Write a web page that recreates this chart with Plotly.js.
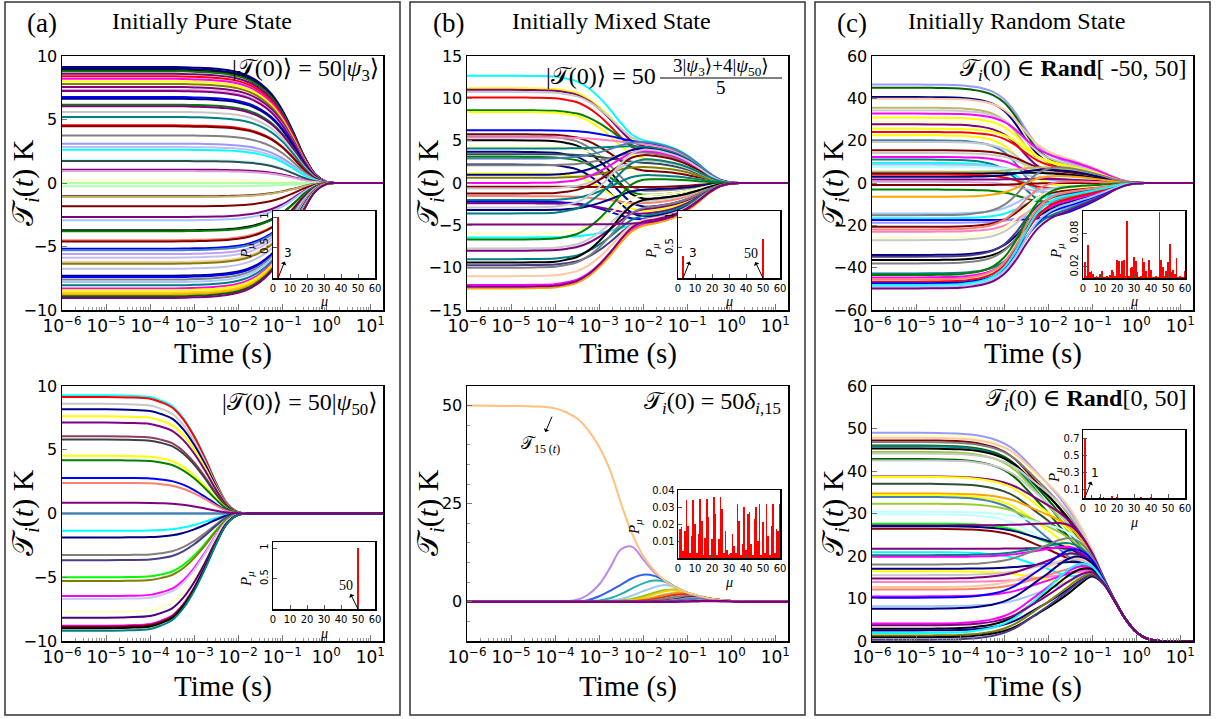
<!DOCTYPE html>
<html>
<head>
<meta charset="utf-8">
<script src="https://cdn.plot.ly/plotly-3.0.1.min.js"></script>
<style>
  html, body { margin: 0; padding: 0; background: #fff; }
  #fig { width: 1216px; height: 719px; }
</style>
</head>
<body>
<div id="fig"></div>
<script>
// ---------------------------------------------------------------------------
// Time samples (s) shared by every temperature curve
const TIME_S = [1e-6, 1e-5, 3.16e-5, 1e-4, 1.78e-4, 3.16e-4, 5.62e-4, 1e-3, 1.78e-3, 3.16e-3,
                5.62e-3, 1e-2, 1.78e-2, 3.16e-2, 5.62e-2, 0.1, 0.178, 0.316, 0.562, 1,
                1.78, 3.16, 10, 20];

// Relaxation profiles (fraction of the amplitude left) on TIME_S
const DECAY_PSI3  = [1, 1, 1, 1, 1, 1, 0.999, 0.995, 0.992, 0.985, 0.974, 0.955, 0.92, 0.86, 0.77,
                     0.63, 0.44, 0.23, 0.075, 0.01, 0.0003, 0, 0, 0];
const DECAY_PSI50 = [1, 1, 0.996, 0.985, 0.955, 0.91, 0.81, 0.66, 0.47, 0.26, 0.085, 0.012, 0.0005,
                     0, 0, 0, 0, 0, 0, 0, 0, 0, 0, 0];
const FAST_RAND   = [1, 1, 0.997, 0.99, 0.975, 0.95, 0.9, 0.8, 0.62, 0.38, 0.18, 0.07, 0.02, 0.005,
                     0, 0, 0, 0, 0, 0, 0, 0, 0, 0];
const SLOW_RAND   = [1, 1, 1, 1, 1, 1, 1, 1, 1, 1, 0.98, 0.94, 0.88, 0.79, 0.67, 0.53, 0.37, 0.2,
                     0.07, 0.012, 0.001, 0, 0, 0];
const FAST_POS    = [1, 1, 0.998, 0.99, 0.98, 0.96, 0.93, 0.88, 0.8, 0.68, 0.55, 0.42, 0.28, 0.15,
                     0.06, 0.02, 0.005, 0, 0, 0, 0, 0, 0, 0];
const MID_POS     = [1, 1, 1, 1, 1, 1, 1, 1, 1, 1, 1, 1, 1, 0.93, 0.7, 0.35, 0.1, 0.02, 0, 0,
                     0, 0, 0, 0];
const FINAL_POS   = [1, 1, 1, 1, 1, 1, 1, 1, 1, 1, 1, 1, 1, 1, 1, 0.97, 0.8, 0.55, 0.3, 0.12, 0.03,
                     0.004, 0, 0];
const LATE_LEVEL_POS = 17.5;

// (a) |T(0)> = 50|psi_3> : site amplitudes and colours
const PURE3_T0 = [9.13, 9.0, 8.87, 8.8, 8.6, 8.4, 8.2, 8.0, 7.8, 7.56, 7.35, 7.24, 6.77, 6.64, 6.17,
  6.04, 5.6, 5.2, 4.54, 4.46, 3.75, 3.1, 2.83, 2.62, 1.84, 1.73, 1.05, 0.94, 0.2, 0.0, -0.26, -1.05,
  -1.1, -1.84, -2.68, -2.94, -3.73, -3.8, -4.5, -4.6, -5.17, -5.3, -5.6, -5.88, -6.22, -6.35, -6.75,
  -7.3, -7.4, -7.6, -7.8, -8.06, -8.3, -8.45, -8.63, -8.77, -8.92, -9.05];
const PURE3_COLORS = ['#000080','#00008b','#000000','#008000','#800080','#ff0000','#ff00ff','#ffff00',
  '#808000','#800080','#dda0dd','#800080','#0000ff','#00008b','#008000','#800080','#c8c8c8','#008080',
  '#ff0000','#800000','#808080','#9999ff','#c0c0f0','#00ffff','#c0ffff','#2f4f4f','#800080','#dda0dd',
  '#ffffc0','#b0ffb0','#b0ffb0','#800000','#bdb76b','#800000','#800080','#a0c8ff','#000000','#008000',
  '#fa8072','#800000','#0000ff','#4682b4','#c0a0ff','#c0c0f0','#ffc8a0','#808000','#c0c0f0','#000080',
  '#0000ff','#808080','#a0c8ff','#008080','#ff00ff','#ffff00','#ffd700','#ffa500','#006400','#800080'];

// (a) |T(0)> = 50|psi_50>
const PURE50_T0 = [9.27, 9.14, 8.6, 8.17, 7.62, 7.13, 6.06, 5.8, 4.52, 4.18, 2.79, 2.4, 0, 0, -1.36,
  -1.88, -3.26, -3.66, -5.0, -5.3, -6.48, -6.7, -7.7, -8.17, -8.8, -8.88, -9.0, -9.2, 0.84];
const PURE50_COLORS = ['#00ffff','#ff0000','#c8c8c8','#000080','#ffff00','#800080','#8b4060','#404040',
  '#ffff00','#008000','#0000ff','#fa8072','#4682b4','#4682b4','#00ffff','#000080','#808080','#483d8b',
  '#00ff00','#808000','#ff00ff','#c8c8f0','#ffffc0','#4b0082','#ff00ff','#8b0000','#000000','#008080',
  '#800080'];

// (b) |T(0)> = 50 (3|psi_3> + 4|psi_50>)/5 : start values and psi_3 plateau values
const MIXED_T0 = [12.68, 11.2, 11.0, 10.75, 10.1, 8.6, 8.4, 6.23, 5.76, 5.5, 5.37, 5.05, 4.35, 4.07,
  3.68, 3.4, 3.09, 2.89, 2.18, 2.1, 1.12, 0.96, 0.61, 0, -0.45, -0.65, -1.24, -1.55, -2.02, -2.22,
  -2.4, -2.89, -3.2, -3.6, -5.96, -6.43, -6.67, -7.73, -8.0, -9.0, -9.4, -9.7, -10.0, -11.0, -12.05,
  -12.45, -12.25, -4.9];
const MIXED_PLATEAU = [5.2, 4.8, 4.5, 5.0, 3.8, 4.2, 3.0, 5.0, 1.5, -1.0, 4.8, -2.0, 1.0, 4.5, -3.0,
  2.5, -1.5, 5.1, -4.2, 3.8, -3.5, 4.3, 2.0, 4.0, -0.5, 2.8, 3.5, -2.5, 1.0, -4.5, -3.8, 4.2, -0.8,
  3.0, -1.5, -5.0, 0.5, -2.2, -3.2, -4.0, -2.0, -4.6, -3.0, -4.5, -5.0, -5.2, -4.7, -4.9];
const MIXED_COLORS = ['#00ffff','#ffff00','#800080','#c8c8c8','#ff0000','#008000','#ffff00','#0000ff',
  '#800000','#808080','#ff80c0','#000000','#ffffc0','#008080','#00008b','#2f4f4f','#008000','#4682b4',
  '#000080','#808080','#ffff00','#00008b','#808000','#ff00ff','#8b0000','#c8c8c8','#800000','#fa8072',
  '#008080','#0000ff','#800080','#c8c8c8','#000080','#008080','#ffffc0','#00ffff','#008000','#c8c8c8',
  '#800080','#008080','#000000','#483d8b','#808080','#ffc8a0','#ff00ff','#ffa500','#800080','#800080'];

// (b) T_i(0) = 50 delta_{i,15} : heated site and its neighbours
const HEATED_SITE_15 = [50, 49.9, 49.8, 49.3, 48.3, 46.7, 43.8, 39.5, 33.5, 25.0, 17.3, 11.7, 7.9,
  5.3, 3.6, 2.3, 1.5, 0.85, 0.45, 0.2, 0.05, 0, 0, 0];
const NEIGHBOUR_SITES = [
  [0, 0, 0.01, 0.05, 0.15, 0.5, 1.8, 4.4, 8.7, 13.4, 14.0, 10.8, 7.5, 5.2, 3.6, 2.3, 1.5, 0.85, 0.45, 0.2, 0.05, 0, 0, 0],
  [0, 0, 0, 0.01, 0.03, 0.08, 0.4, 1.4, 2.8, 4.4, 6.0, 6.9, 6.6, 5.3, 3.6, 2.3, 1.5, 0.85, 0.45, 0.2, 0.05, 0, 0, 0],
  [0, 0, 0, 0, 0.01, 0.02, 0.1, 0.3, 0.9, 2.0, 3.4, 4.7, 5.4, 5.1, 3.7, 2.3, 1.5, 0.85, 0.45, 0.2, 0.05, 0, 0, 0],
  [0, 0, 0, 0, 0, 0.01, 0.03, 0.1, 0.3, 0.7, 1.6, 2.7, 3.7, 4.3, 3.6, 2.3, 1.5, 0.85, 0.45, 0.2, 0.05, 0, 0, 0],
  [0, 0, 0, 0, 0, 0, 0.01, 0.03, 0.1, 0.3, 0.7, 1.4, 2.3, 3.0, 3.1, 2.3, 1.5, 0.85, 0.45, 0.2, 0.05, 0, 0, 0],
  [0, 0, 0, 0, 0, 0, 0, 0.01, 0.04, 0.12, 0.3, 0.6, 1.2, 1.9, 2.4, 2.1, 1.5, 0.85, 0.45, 0.2, 0.05, 0, 0, 0],
  [0, 0, 0, 0, 0, 0, 0, 0.01, 0.05, 0.15, 0.4, 1.0, 1.9, 2.7, 2.9, 2.2, 1.5, 0.85, 0.45, 0.2, 0.05, 0, 0, 0],
  [0, 0, 0, 0, 0, 0, 0, 0, 0.02, 0.06, 0.2, 0.5, 1.1, 1.8, 2.2, 2.0, 1.4, 0.85, 0.45, 0.2, 0.05, 0, 0, 0],
  [0, 0, 0, 0, 0, 0, 0, 0, 0.01, 0.03, 0.1, 0.3, 0.7, 1.3, 1.8, 1.9, 1.4, 0.85, 0.45, 0.2, 0.05, 0, 0, 0],
  [0, 0, 0, 0, 0, 0, 0, 0, 0, 0, 0, 0.1, 0.4, 0.8, 1.3, 1.5, 1.3, 0.85, 0.45, 0.2, 0.05, 0, 0, 0],
  [0, 0, 0, 0, 0, 0, 0, 0, 0, 0, 0, 0, 0.1, 0.3, 0.7, 1.1, 1.1, 0.8, 0.45, 0.2, 0.05, 0, 0, 0],
  [0, 0, 0, 0, 0, 0, 0, 0, 0, 0, 0, 0, 0, 0.2, 0.5, 0.9, 1.0, 0.8, 0.45, 0.2, 0.05, 0, 0, 0],
  [0, 0, 0, 0, 0, 0, 0, 0, 0, 0, 0, 0, 0, 0.1, 0.3, 0.6, 0.8, 0.7, 0.4, 0.2, 0.05, 0, 0, 0]
];
const NEIGHBOUR_COLORS = ['#b888f0','#2f60f0','#20b0b0','#a0c8f0','#90c020','#a0e0e0','#f0d000',
  '#ff8c00','#e03020','#808080','#202020','#b080e0','#5080b0'];
const HEATED_COLOR = '#ffc080';
const FAR_SITE = [0, 0, 0, 0, 0, 0, 0, 0, 0, 0, 0, 0, 0, 0, 0.02, 0.08, 0.15, 0.2, 0.15, 0.08, 0.02, 0, 0, 0];

// (c) T_i(0) in Rand[-50, 50] : start values and values near 10 ms
const RAND_SYM_T0 = [46.5, 45, 40.6, 39.8, 35.6, 34.3, 32.8, 30.9, 28.8, 27.7, 25.7, 24.1, 22.6, 20.2,
  19.4, 15.5, 14.2, 12.3, 11.1, 9.5, 8.7, 7.6, 5.3, 4.5, 4.0, 2.9, 1.65, 0.55, -1.0, -3.1, -6.5,
  -14.4, -15.2, -16.7, -17.5, -18.8, -20.7, -22, -23, -25.7, -27, -34, -34.8, -36.4, -38, -42.7,
  -43.5, -44.6, -45.5, -46.6, -47.4, -48.2, -49, -49.8];
const RAND_SYM_MID = [12, 10, 8, 14, 6, 11, 13, 9, 7, 4, 10, 8, -2, -8, 3, 6, 5, 2, -12, -6, 1, 3, 8,
  5, -3, 7, 2, -5, 0, -10, 4, -2, 9, -6, -17, -14, -4, 1, -9, -3, -7, -11, -6, -12, -8, -15, -2, -10,
  -5, -9, -13, -7, -12, -16];
const RAND_SYM_COLORS = ['#9999ff','#006400','#000080','#ffc8a0','#bdb76b','#c8c8c8','#ff00ff','#ffff00',
  '#ffffc0','#800080','#ffff00','#ff0000','#ffff00','#4682b4','#c8c8c8','#800000','#c8c8c8','#ff00ff',
  '#008080','#00ffff','#a0c8ff','#c0ffff','#bdb76b','#000000','#ff0000','#000080','#800080','#dda0dd',
  '#800000','#008000','#ffa500','#a0c8ff','#808080','#00ffff','#0000ff','#9999ff','#800000','#fa8072',
  '#ff80c0','#ffffc0','#c8c8c8','#000080','#483d8b','#000000','#808080','#008080','#008000','#ff00ff',
  '#fa8072','#ff0000','#0000ff','#00ffff','#a0c8ff','#800080'];

// (c) T_i(0) in Rand[0, 50] : start values and values near 30 ms
const RAND_POS_T0 = [49, 48.4, 47.8, 47.2, 46.8, 46, 45.8, 45.3, 44.5, 44.1, 42.8, 42.5, 38.7, 38.6,
  37, 34.7, 34.3, 33.9, 32.3, 30.4, 29.8, 27.6, 27.2, 27, 26.4, 21.7, 20.9, 20.2, 19.8, 18, 17, 16.4,
  15.5, 14.7, 13.9, 12.7, 12.1, 10.5, 10.2, 8.2, 7.6, 4.1, 2.9, 2.5, 1.9, 1.3, 0.9, 0.3, 3.7];
const RAND_POS_MID = [28, 26, 29, 25, 27, 24, 22, 26, 23, 28, 21, 25, 27, 24, 22, 26, 20, 17, 23, 25,
  19, 20, 28, 21, 18, 22, 14, 24, 23, 26, 19, 13, 20, 22, 16, 21, 18, 17, 24, 15, 22, 19, 18, 14, 20,
  15, 13, 14, 16];
const RAND_POS_COLORS = ['#9999ff','#ffffc0','#ffc8a0','#800000','#808080','#006400','#008080','#000000',
  '#9acd32','#c8c8c8','#006400','#c8c8c8','#800080','#ffff00','#2f4f2f','#ffa500','#ffff00','#4682b4',
  '#9acd32','#c0ffff','#c0ffff','#00ff00','#800080','#000080','#8b0000','#800080','#00ffff','#008080',
  '#ff00ff','#808080','#000080','#ffff00','#c8c8c8','#800080','#ff80c0','#ffc8a0','#fa8072','#ff00ff',
  '#0000ff','#a0c8ff','#000080','#ff00ff','#000000','#00008b','#00ffff','#808000','#000000','#483d8b',
  '#800080'];

// Inset spectra P_mu
const MU_ALL = [1,2,3,4,5,6,7,8,9,10,11,12,13,14,15,16,17,18,19,20,21,22,23,24,25,26,27,28,29,30,
  31,32,33,34,35,36,37,38,39,40,41,42,43,44,45,46,47,48,49,50,51,52,53,54,55,56,57,58,59,60];
const P_PURE3_MU = [3],  P_PURE3 = [1];
const P_PURE50_MU = [50], P_PURE50 = [1];
const P_MIXED_MU = [3, 50], P_MIXED = [0.36, 0.64];
const P_DELTA15 = [0.017,0.018,0.004,0.016,0.034,0.019,0.003,0.013,0.034,0.020,0.003,0.014,0.035,
  0.022,0.002,0.012,0.035,0.024,0.002,0.011,0.036,0.026,0.002,0.011,0.036,0.029,0.003,0.016,0.005,
  0.002,0.003,0.014,0.007,0.003,0.032,0.022,0.002,0.008,0.030,0.005,0.026,0.027,0.008,0.002,0.023,
  0.030,0.010,0.032,0.002,0.021,0.003,0.032,0.013,0.002,0.019,0.032,0.003,0.017,0.016,0.032];
const P_RAND_SYM = [0.028,0.004,0.059,0.011,0.013,0.008,0.002,0.003,0.001,0.008,0.012,0.002,0.001,
  0.003,0.001,0.005,0.014,0.010,0.004,0.032,0.031,0.008,0.030,0.032,0.003,0.102,0.004,0.018,0.020,
  0.038,0.030,0.010,0.002,0.004,0.035,0.028,0.012,0.002,0.032,0.015,0.002,0.001,0.003,0.002,0.119,
  0.032,0.020,0.003,0.012,0.028,0.061,0.010,0.015,0.008,0.035,0.002,0.003,0.001,0.002,0.012];
const P_RAND_POS_MU = [1, 5, 10, 12, 17, 20, 34, 40];
const P_RAND_POS = [0.70, 0.034, 0.010, 0.008, 0.020, 0.012, 0.010, 0.008];

// Axis ticks
const DECADES = [1e-6, 1e-5, 1e-4, 1e-3, 1e-2, 1e-1, 1, 10];
const DECADE_TEXT = ['10<sup>\u22126</sup>','10<sup>\u22125</sup>','10<sup>\u22124</sup>','10<sup>\u22123</sup>',
  '10<sup>\u22122</sup>','10<sup>\u22121</sup>','10<sup>0</sup>','10<sup>1</sup>'];

// ---------------------------------------------------------------------------
const W = 1216, H = 719;
const SERIF = 'Liberation Serif, DejaVu Serif, serif';
const SANS = 'DejaVu Sans, sans-serif';
const TS = '\ud835\udcaf'; // script capital T

const minorTicks = [];
DECADES.forEach(d => { for (let m = 2; m <= 9; m++) { if (m * d < 19.4) minorTicks.push(m * d); } });

function mix(terms) {
  return TIME_S.map((_, k) => terms.reduce((s, t) => s + t[0] * t[1][k], 0));
}
function curve(xa, ya, y, color, width) {
  return { type: 'scatter', mode: 'lines', x: TIME_S, y: y, xaxis: xa, yaxis: ya,
           line: { color: color, width: width || 2, shape: 'spline', smoothing: 1 }, hoverinfo: 'skip' };
}
function bars(xa, ya, mu, p) {
  return { type: 'bar', x: mu, y: p, xaxis: xa, yaxis: ya, width: 1,
           marker: { color: '#ff0000', line: { width: 0 } }, hoverinfo: 'skip' };
}

const traces = [];
PURE3_T0.forEach((a, i) => traces.push(curve('x', 'y', mix([[a, DECAY_PSI3]]), PURE3_COLORS[i % PURE3_COLORS.length])));
PURE50_T0.forEach((a, i) => traces.push(curve('x2', 'y2', mix([[a, DECAY_PSI50]]), PURE50_COLORS[i % PURE50_COLORS.length])));
MIXED_T0.forEach((a, i) => {
  const p = MIXED_PLATEAU[i];
  traces.push(curve('x3', 'y3', mix([[p, DECAY_PSI3], [a - p, DECAY_PSI50]]), MIXED_COLORS[i % MIXED_COLORS.length]));
});
NEIGHBOUR_SITES.forEach((s, i) => traces.push(curve('x4', 'y4', s, NEIGHBOUR_COLORS[i % NEIGHBOUR_COLORS.length])));
traces.push(curve('x4', 'y4', HEATED_SITE_15, HEATED_COLOR));
traces.push(curve('x4', 'y4', FAR_SITE, '#800080', 2.5));
RAND_SYM_T0.forEach((a, i) => {
  const m = RAND_SYM_MID[i];
  traces.push(curve('x5', 'y5', mix([[m, SLOW_RAND], [a - m, FAST_RAND]]), RAND_SYM_COLORS[i % RAND_SYM_COLORS.length]));
});
RAND_POS_T0.forEach((a, i) => {
  const m = RAND_POS_MID[i];
  traces.push(curve('x6', 'y6', mix([[LATE_LEVEL_POS, FINAL_POS], [m - LATE_LEVEL_POS, MID_POS], [a - m, FAST_POS]]),
                    RAND_POS_COLORS[i % RAND_POS_COLORS.length]));
});
traces.push(bars('x7', 'y7', P_PURE3_MU, P_PURE3));
traces.push(bars('x8', 'y8', P_PURE50_MU, P_PURE50));
traces.push(bars('x9', 'y9', P_MIXED_MU, P_MIXED));
traces.push(bars('x10', 'y10', MU_ALL, P_DELTA15));
traces.push(bars('x11', 'y11', MU_ALL, P_RAND_SYM));
traces.push(bars('x12', 'y12', P_RAND_POS_MU, P_RAND_POS));

// ---------------------------------------------------------------------------
const COLS = [[62, 383], [467, 788], [872, 1193]];
const ROWS = [[56, 310], [386, 641]];
const INSET_X = [[273, 375], [678, 780], [1083, 1185]];
const INSET_Y = [[[211, 278], [542, 609]], [[211, 278], [490, 558]], [[211, 278], [430, 498]]];
const dX = c => [c[0] / W, c[1] / W];
const dY = r => [1 - r[1] / H, 1 - r[0] / H];

function mainX(dom, anchor) {
  return { domain: dX(dom), anchor: anchor, type: 'log', range: [-6, 1.288],
    tickmode: 'array', tickvals: DECADES, ticktext: DECADE_TEXT,
    ticks: 'inside', ticklen: 6, tickwidth: 1, tickcolor: '#777',
    minor: { tickmode: 'array', tickvals: minorTicks, ticks: 'inside', ticklen: 3, tickwidth: 1, tickcolor: '#999' },
    showline: true, linecolor: '#000', linewidth: 1.5, mirror: true,
    showgrid: false, zeroline: false, fixedrange: true,
    tickfont: { family: SANS, size: 17, color: '#000' } };
}
function mainY(dom, anchor, range, dtick, minorDtick) {
  const ax = { domain: dY(dom), anchor: anchor, range: range, tickmode: 'linear', tick0: 0, dtick: dtick,
    ticks: 'inside', ticklen: 5, tickwidth: 1, tickcolor: '#777',
    showline: true, linecolor: '#000', linewidth: 1.5, mirror: true,
    showgrid: false, zeroline: false, fixedrange: true,
    tickfont: { family: SANS, size: 16, color: '#000' } };
  if (minorDtick) ax.minor = { dtick: minorDtick, ticks: 'inside', ticklen: 3, tickwidth: 1, tickcolor: '#999' };
  return ax;
}
function insetX(dom, anchor) {
  return { domain: dX(dom), anchor: anchor, range: [0, 60], tickmode: 'array',
    tickvals: [0, 10, 20, 30, 40, 50, 60], ticks: 'inside', ticklen: 4, tickcolor: '#555',
    showline: true, linecolor: '#000', linewidth: 1.5, mirror: true,
    showgrid: false, zeroline: false, fixedrange: true,
    tickfont: { family: SANS, size: 10, color: '#000' } };
}
function insetY(dom, anchor, range, vals, angle) {
  return { domain: dY(dom), anchor: anchor, range: range, tickmode: 'array', tickvals: vals,
    ticktext: vals.map(v => String(v)), tickangle: angle, ticks: 'inside', ticklen: 4, tickcolor: '#555',
    showline: true, linecolor: '#000', linewidth: 1.5, mirror: true,
    showgrid: false, zeroline: false, fixedrange: true,
    tickfont: { family: SANS, size: 10, color: '#000' } };
}

const layout = {
  width: W, height: H, margin: { l: 0, r: 0, t: 0, b: 0 },
  paper_bgcolor: '#fff', plot_bgcolor: '#fff', showlegend: false, hovermode: false, bargap: 0,
  xaxis:  mainX(COLS[0], 'y'),   yaxis:  mainY(ROWS[0], 'x',  [-10, 10], 5),
  xaxis2: mainX(COLS[0], 'y2'),  yaxis2: mainY(ROWS[1], 'x2', [-10, 10], 5),
  xaxis3: mainX(COLS[1], 'y3'),  yaxis3: mainY(ROWS[0], 'x3', [-15, 15], 5),
  xaxis4: mainX(COLS[1], 'y4'),  yaxis4: mainY(ROWS[1], 'x4', [-10, 55], 25, 5),
  xaxis5: mainX(COLS[2], 'y5'),  yaxis5: mainY(ROWS[0], 'x5', [-60, 60], 20),
  xaxis6: mainX(COLS[2], 'y6'),  yaxis6: mainY(ROWS[1], 'x6', [0, 60], 10),
  xaxis7:  insetX(INSET_X[0], 'y7'),  yaxis7:  insetY(INSET_Y[0][0], 'x7',  [0, 1.1], [0.5, 1], -90),
  xaxis8:  insetX(INSET_X[0], 'y8'),  yaxis8:  insetY(INSET_Y[0][1], 'x8',  [0, 1.1], [0.5, 1], -90),
  xaxis9:  insetX(INSET_X[1], 'y9'),  yaxis9:  insetY(INSET_Y[1][0], 'x9',  [0, 1.1], [0.5, 1], -90),
  xaxis10: insetX(INSET_X[1], 'y10'), yaxis10: insetY(INSET_Y[1][1], 'x10', [0, 0.04], [0.01, 0.02, 0.03, 0.04], 0),
  xaxis11: insetX(INSET_X[2], 'y11'), yaxis11: insetY(INSET_Y[2][0], 'x11', [0, 0.12], [0.02, 0.08], -90),
  xaxis12: insetX(INSET_X[2], 'y12'), yaxis12: insetY(INSET_Y[2][1], 'x12', [0, 0.8], [0.1, 0.3, 0.5, 0.7], 0),
  shapes: [], annotations: []
};

// panel frames
[[5, 400], [410, 805], [815, 1210]].forEach(c => layout.shapes.push({
  type: 'rect', xref: 'paper', yref: 'paper', x0: c[0] / W, x1: c[1] / W, y0: 1 - 715 / H, y1: 1 - 2 / H,
  line: { color: '#333', width: 1.5 }, fillcolor: 'rgba(0,0,0,0)', layer: 'below' }));
// fraction bar of the mixed initial state
layout.shapes.push({ type: 'line', xref: 'paper', yref: 'paper', x0: 660 / W, x1: 782 / W,
  y0: 1 - 78 / H, y1: 1 - 78 / H, line: { color: '#000', width: 1 } });

function note(text, x, y, size, extra) {
  return Object.assign({ text: text, x: x / W, y: 1 - y / H, xref: 'paper', yref: 'paper', showarrow: false,
    xanchor: 'center', yanchor: 'middle', font: { family: SERIF, size: size, color: '#000' } }, extra || {});
}
const A = layout.annotations;
A.push(note('(a)', 42, 23, 27), note('(b)', 448, 23, 27), note('(c)', 852, 23, 27));
A.push(note('Initially Pure State', 202, 21, 24), note('Initially Mixed State', 611, 21, 24),
       note('Initially Random State', 1016, 21, 24));
const yTitle = TS + '<sub><i>i</i></sub>(<i>t</i>) K';
[25, 430, 835].forEach(x => { A.push(note(yTitle, x, 183, 30, { textangle: -90 }), note(yTitle, x, 513, 30, { textangle: -90 })); });
COLS.forEach(c => { const xc = (c[0] + c[1]) / 2; A.push(note('Time (s)', xc, 354, 29), note('Time (s)', xc, 686, 29)); });

A.push(note('|' + TS + '(0)\u27e9 = 50|<i>\u03c8</i><sub>3</sub>\u27e9', 381, 70, 24, { xanchor: 'right' }));
A.push(note('|' + TS + '(0)\u27e9 = 50|<i>\u03c8</i><sub>50</sub>\u27e9', 380, 404, 24, { xanchor: 'right' }));
A.push(note('|' + TS + '(0)\u27e9 = 50', 658, 76, 24, { xanchor: 'right' }));
A.push(note('3|<i>\u03c8</i><sub>3</sub>\u27e9+4|<i>\u03c8</i><sub>50</sub>\u27e9', 721, 67, 19));
A.push(note('5', 721, 88, 19));
A.push(note(TS + '<sub><i>i</i></sub>(0) = 50<i>\u03b4</i><sub><i>i</i>,15</sub>', 783, 403, 24, { xanchor: 'right' }));
A.push(note(TS + '<sub><i>i</i></sub>(0) \u2208 <b>Rand</b>[ -50, 50]', 1188, 70, 24, { xanchor: 'right' }));
A.push(note(TS + '<sub><i>i</i></sub>(0) \u2208 <b>Rand</b>[0, 50]', 1188, 400, 24, { xanchor: 'right' }));

// inset axis labels
const insetLabels = [
  [247, 252, 324, 302], [247, 580, 324, 633], [652, 252, 729, 302],
  [635, 528, 729, 582], [1057, 252, 1134, 302], [1055, 476, 1134, 522]];
insetLabels.forEach(p => {
  A.push(note('<i>P</i><sub><i>\u03bc</i></sub>', p[0], p[1], 15, { textangle: -90 }));
  A.push(note('<i>\u03bc</i>', p[2], p[3], 14));
});

// mode markers in the insets
function pointer(xa, ya, mu, text, ax, ay, fam) {
  return { text: text, xref: xa, yref: ya, x: mu, y: 0, ax: ax, ay: ay, showarrow: true,
    arrowside: 'start', arrowhead: 2, arrowsize: 1, arrowwidth: 1, arrowcolor: '#000',
    font: { family: fam, size: fam === SANS ? 12 : 14, color: '#000' } };
}
A.push(pointer('x7', 'y7', 3, '3', 10, -25, SANS));
A.push(pointer('x8', 'y8', 50, '50', -12, -24, SERIF));
A.push(pointer('x9', 'y9', 3, '3', 10, -25, SANS));
A.push(pointer('x9', 'y9', 50, '50', -12, -25, SERIF));
A.push(pointer('x12', 'y12', 1, '1', 10, -25, SANS));
// label of the heated site
A.push({ text: TS + '<sub>15 (<i>t</i>)</sub>', xref: 'x4', yref: 'y4', x: -4.07, y: 47.2, ax: -12, ay: 28,
  showarrow: true, arrowside: 'start', arrowhead: 2, arrowsize: 1, arrowwidth: 1, arrowcolor: '#000',
  font: { family: SERIF, size: 17, color: '#000' } });

Plotly.newPlot('fig', traces, layout, { staticPlot: true, displayModeBar: false });
</script>
</body>
</html>
